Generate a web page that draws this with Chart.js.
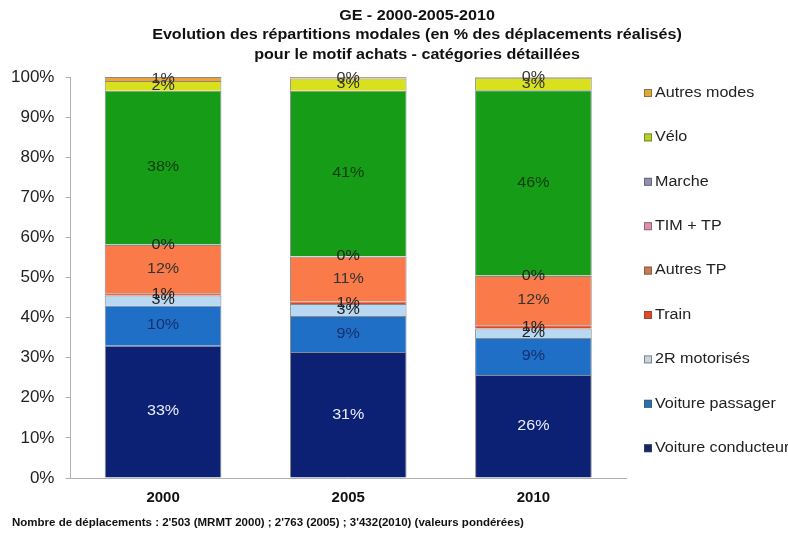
<!DOCTYPE html>
<html>
<head>
<meta charset="utf-8">
<script src="https://cdn.jsdelivr.net/npm/chart.js@4"></script>
<style>
  html, body { margin: 0; padding: 0; background: #fff; }
  #wrap { width: 788px; height: 534px; }
</style>
</head>
<body>
<div id="wrap"><canvas id="modesChart" width="788" height="534"></canvas></div>
<script>
// categories and series (% of trips, bottom to top)
const years = ['2000', '2005', '2010'];
const modes = ['Voiture conducteur', 'Voiture passager', '2R motorisés', 'Train', 'Autres TP',
               'TIM + TP', 'Marche', 'Vélo', 'Autres modes'];
const voitureConducteur = [33, 31.4, 25.7];
const voiturePassager = [10, 9, 9.2];
const deuxRoues = [2.5, 3, 2.4];
const train = [0.6, 0.6, 0.8];
const autresTP = [12, 11.2, 12.3];
const timTP = [0.1, 0.1, 0.1];
const marche = [38.4, 41.3, 46.2];
const velo = [2.4, 3, 3.1];
const autresModes = [1, 0.4, 0.2];
const yTicks = [0, 10, 20, 30, 40, 50, 60, 70, 80, 90, 100];

const titleLines = ['GE - 2000-2005-2010',
  'Evolution des répartitions modales (en % des déplacements réalisés)',
  'pour le motif achats - catégories détaillées'];
const footnote = "Nombre de déplacements : 2'503 (MRMT 2000) ; 2'763 (2005) ; 3'432(2010) (valeurs pondérées)";

const series = [voitureConducteur, voiturePassager, deuxRoues, train, autresTP, timTP, marche, velo, autresModes];
const barColors = ['#0c2173', '#1f6fc6', '#b9d8f2', '#e8421e', '#fa7a4a', '#e58fa8', '#169c16', '#d9e01e', '#f0a232'];
const legendColors = ['#14246a', '#2472b4', '#c9d5e2', '#e8461e', '#c97a4e', '#e08fa8', '#8f8fb2', '#b5d21e', '#deaa34'];
const labelColors = ['#e8ecff', '#16306e', '#222', '#222', '#333', '#222', '#0d3d0d', '#333', '#333'];

const FONT = '"Liberation Sans", Arial, sans-serif';
const STRETCH = 1.15; // the original text is a bit wider than plain Arial

function wideText(ctx, text, x, y) {
  ctx.save();
  ctx.translate(x, y);
  ctx.scale(STRETCH, 1);
  ctx.fillText(text, 0, 0);
  ctx.restore();
}

// title, footnote and right-hand legend drawn on the canvas
const textPlugin = {
  id: 'textPlugin',
  afterDraw(chart) {
    const ctx = chart.ctx;
    ctx.save();
    ctx.fillStyle = '#111';
    ctx.textAlign = 'center';
    ctx.textBaseline = 'middle';
    ctx.font = 'bold 14px ' + FONT;
    titleLines.forEach((t, i) => wideText(ctx, t, 417, 16 + i * 19.5));

    ctx.textAlign = 'left';
    ctx.font = 'bold 10px ' + FONT;
    wideText(ctx, footnote, 12, 523);

    // legend, top item = last series
    ctx.font = '14px ' + FONT;
    for (let i = modes.length - 1; i >= 0; i--) {
      const y = 93 + (modes.length - 1 - i) * 44.4;
      ctx.fillStyle = legendColors[i];
      ctx.fillRect(644, y - 4, 8, 8);
      ctx.strokeStyle = 'rgba(80,80,80,0.6)';
      ctx.lineWidth = 1;
      ctx.strokeRect(644.5, y - 3.5, 7, 7);
      ctx.fillStyle = '#222';
      wideText(ctx, modes[i], 655, y);
    }
    ctx.restore();
  }
};

// percentage labels centred in each segment
const segLabels = {
  id: 'segLabels',
  afterDatasetsDraw(chart) {
    const ctx = chart.ctx;
    ctx.save();
    ctx.font = '14px ' + FONT;
    ctx.textAlign = 'center';
    ctx.textBaseline = 'middle';
    chart.data.datasets.forEach((ds, di) => {
      const meta = chart.getDatasetMeta(di);
      meta.data.forEach((bar, i) => {
        const v = ds.data[i];
        ctx.fillStyle = labelColors[di];
        wideText(ctx, Math.round(v) + '%', bar.x, (bar.y + bar.base) / 2);
      });
    });
    ctx.restore();
  }
};

new Chart(document.getElementById('modesChart'), {
  type: 'bar',
  data: {
    labels: years,
    datasets: series.map((s, i) => ({
      label: modes[i],
      data: s,
      backgroundColor: barColors[i],
      borderColor: 'rgba(40,40,40,0.55)',
      borderWidth: 1,
      barPercentage: 0.63,
      categoryPercentage: 1
    }))
  },
  options: {
    responsive: false,
    animation: false,
    layout: { padding: { top: 77, right: 162, bottom: 24, left: 0 } },
    plugins: {
      legend: { display: false },
      title: { display: false },
      tooltip: { enabled: false }
    },
    scales: {
      x: {
        stacked: true,
        grid: { display: false },
        border: { color: '#b0b0b0' },
        ticks: { color: '#111', font: { family: FONT, size: 15, weight: 'bold' }, padding: 3 }
      },
      y: {
        stacked: true,
        min: 0,
        max: 100,
        afterBuildTicks: axis => { axis.ticks = yTicks.map(v => ({ value: v })); },
        grid: { drawOnChartArea: false, tickLength: 5, color: '#b0b0b0' },
        border: { color: '#b0b0b0' },
        ticks: {
          color: '#222',
          padding: 11,
          font: { family: FONT, size: 17 },
          callback: v => v + '%'
        }
      }
    }
  },
  plugins: [segLabels, textPlugin]
});
</script>
</body>
</html>
